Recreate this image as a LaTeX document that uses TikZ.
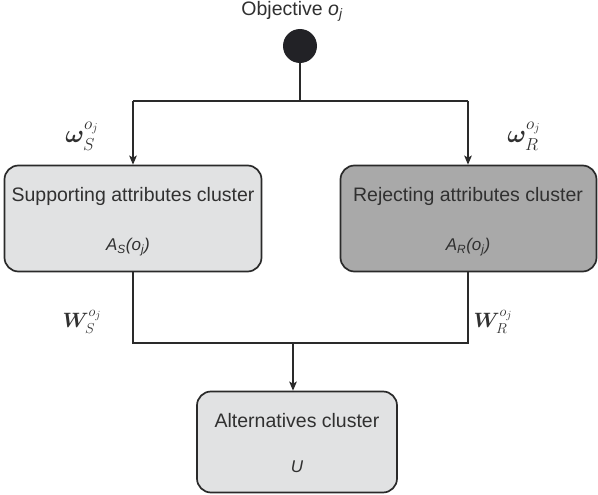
\documentclass[tikz,border=0pt]{standalone}
\usepackage{fontspec}
\usepackage{amsmath,bm}
\setmainfont{Liberation Sans}
\usetikzlibrary{arrows.meta}
\definecolor{linec}{HTML}{2A2A2A}
\definecolor{txtc}{HTML}{303030}
\definecolor{lightfill}{HTML}{E1E2E3}
\definecolor{darkfill}{HTML}{A9A9A9}
\definecolor{dotc}{HTML}{222226}
\tikzset{
  cluster/.style={draw=linec, line width=1.7pt, rounded corners=14pt, inner sep=0pt},
  boxtext/.style={text=txtc, font=\fontsize{19.5}{23}\selectfont, inner sep=0pt},
  subtext/.style={text=txtc, font=\fontsize{17}{20}\selectfont\itshape, inner sep=0pt},
  wlabel/.style={text=txtc, inner sep=0pt},
  conn/.style={draw=linec, line width=1.7pt},
  arr/.style={conn, -{Stealth[length=9pt,width=7.5pt,inset=2pt]}}
}
\begin{document}
\begin{tikzpicture}[x=1pt,y=-1pt]
\path[use as bounding box] (0,0) rectangle (598,495);
% objective
\node[boxtext] (obj) at (292,11) {Objective \textit{o\textsubscript{j}}};
\node[circle, fill=dotc, minimum size=34pt, inner sep=0pt] (dot) at (300,46) {};
% boxes
\node[cluster, fill=lightfill, minimum width=257pt, minimum height=106pt] (sup) at (133,218.5) {};
\node[cluster, fill=darkfill, minimum width=256pt, minimum height=106pt] (rej) at (468.5,218.5) {};
\node[cluster, fill=lightfill, minimum width=200pt, minimum height=101pt] (alt) at (297,442) {};
% box texts
\node[boxtext] (supt) at (133,196) {Supporting attributes cluster};
\node[subtext] (supa) at (128,247) {A\textsubscript{S}(o\textsubscript{j})};
\node[boxtext] (rejt) at (468,196) {Rejecting attributes cluster};
\node[subtext] (reja) at (468,247) {A\textsubscript{R}(o\textsubscript{j})};
\node[boxtext] (altt) at (297,421) {Alternatives cluster};
\node[subtext] (altu) at (297,467) {U};
% junctions
\coordinate (top) at (300,101);
\coordinate (topl) at (133,101);
\coordinate (topr) at (468,101);
\coordinate (botl) at (133,343);
\coordinate (botr) at (468,343);
\coordinate (botm) at (293,343);
% connectors
\draw[conn] (dot.south) -- (top);
\draw[conn] (topl) -- (topr);
\draw[arr] (topl) -- (sup.north -| topl);
\draw[arr] (topr) -- (rej.north -| topr);
\draw[conn] (sup.south -| botl) -- (botl) -- (botr) -- (rej.south -| botr);
\draw[arr] (botm) -- (alt.north -| botm);
% weight labels
\node[wlabel, font=\fontsize{25}{29}\selectfont] (ws) at (82,136) {$\bm{\omega}_{S}^{o_j}$};
\node[wlabel, font=\fontsize{25}{29}\selectfont] (wr) at (524,136) {$\bm{\omega}_{R}^{o_j}$};
\node[wlabel, font=\fontsize{22}{26}\selectfont] (bws) at (82,322) {$\bm{W}_{S}^{o_j}$};
\node[wlabel, font=\fontsize{22}{26}\selectfont] (bwr) at (493,322) {$\bm{W}_{R}^{o_j}$};
\end{tikzpicture}
\end{document}
